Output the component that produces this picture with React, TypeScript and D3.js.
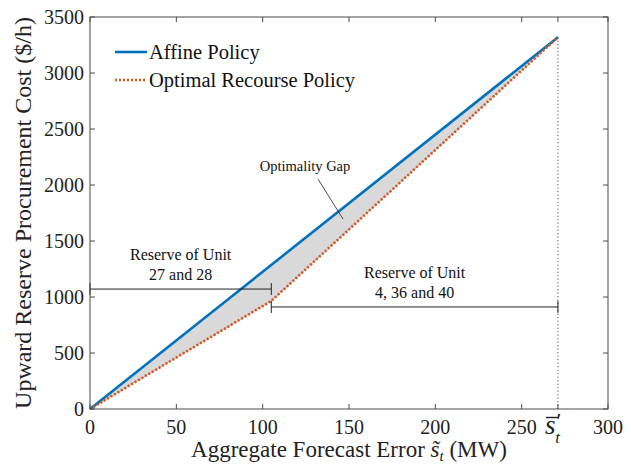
import React from "react";
import * as d3 from "d3";

const affineX = [0, 271];
const affineY = [0, 3320];
const optimalX = [0, 105, 271];
const optimalY = [0, 965, 3320];
const xTicks = [0, 50, 100, 150, 200, 250, 300];
const yTicks = [0, 500, 1000, 1500, 2000, 2500, 3000, 3500];
const sBar = 271;
const bracket1 = { x0: 0, x1: 105, y: 1071, lines: ["Reserve of Unit", "27 and 28"] };
const bracket2 = { x0: 105, x1: 271, y: 911, lines: ["Reserve of Unit", "4, 36 and 40"] };
const legendLabels = ["Affine Policy", "Optimal Recourse Policy"];

const W = 631, H = 466;
const M = { l: 90, r: 23, t: 17, b: 57 };
const FONT = "'Liberation Serif', 'Times New Roman', serif";

export default function App() {
  const x = d3.scaleLinear().domain([0, 300]).range([M.l, W - M.r]);
  const y = d3.scaleLinear().domain([0, 3500]).range([H - M.b, M.t]);
  const affine = affineX.map((v, i) => [v, affineY[i]] as [number, number]);
  const optimal = optimalX.map((v, i) => [v, optimalY[i]] as [number, number]);
  const line = d3.line<[number, number]>().x(d => x(d[0])).y(d => y(d[1]));
  const gap = [...affine, ...optimal.slice().reverse()];
  const axisColor = "#4a4a4a";
  const tl = 5;
  const bottomTicks = [...xTicks, sBar];
  const sx = x(sBar);
  const y0 = y(0);
  return (
    <svg width={W} height={H} style={{ position: "absolute", left: 0, top: 0, background: "#fff" }} fontFamily={FONT}>
      <path d={line(gap)! + "Z"} fill="#d9d9d9" stroke="#a8a8a8" strokeWidth={0.8} />
      <line x1={sx} x2={sx} y1={y(affineY[1])} y2={y0} stroke="#333" strokeWidth={1} strokeDasharray="1,2.5" />
      <path d={line(affine)!} fill="none" stroke="#0072BD" strokeWidth={2.6} />
      <path d={line(optimal)!} fill="none" stroke="#D95319" strokeWidth={2.6} strokeDasharray="2,2" />
      {[bracket1, bracket2].map((b, i) => (
        <g key={i} stroke="#222" strokeWidth={1}>
          <line x1={x(b.x0)} x2={x(b.x1)} y1={y(b.y)} y2={y(b.y)} />
          <line x1={x(b.x0)} x2={x(b.x0)} y1={y(b.y) - 6} y2={y(b.y) + 6} />
          <line x1={x(b.x1)} x2={x(b.x1)} y1={y(b.y) - 6} y2={y(b.y) + 6} />
        </g>
      ))}
      {[bracket1, bracket2].map((b, i) => {
        const cx = (x(b.x0) + x(b.x1)) / 2;
        return (
          <text key={"t" + i} x={cx} y={y(b.y) - 29} textAnchor="middle" fontSize={16} fill="#111">
            <tspan x={cx}>{b.lines[0]}</tspan>
            <tspan x={cx} dy={20}>{b.lines[1]}</tspan>
          </text>
        );
      })}
      <text x={305} y={171} textAnchor="middle" fontSize={14.5} fill="#111">Optimality Gap</text>
      <line x1={318} y1={179} x2={343} y2={219} stroke="#222" strokeWidth={0.8} />
      <rect x={M.l} y={M.t} width={W - M.l - M.r} height={H - M.t - M.b} fill="none" stroke={axisColor} strokeWidth={1} />
      {bottomTicks.map((t, i) => (
        <g key={"xt" + i} stroke={axisColor}>
          <line x1={x(t)} x2={x(t)} y1={y0} y2={y0 - tl} />
          <line x1={x(t)} x2={x(t)} y1={M.t} y2={M.t + tl} />
        </g>
      ))}
      {yTicks.map((t, i) => (
        <g key={"yt" + i} stroke={axisColor}>
          <line x1={M.l} x2={M.l + tl} y1={y(t)} y2={y(t)} />
          <line x1={W - M.r} x2={W - M.r - tl} y1={y(t)} y2={y(t)} />
        </g>
      ))}
      {xTicks.map((t, i) => (
        <text key={"xl" + i} x={x(t)} y={y0 + 25} textAnchor="middle" fontSize={20} fill="#222">{t}</text>
      ))}
      <line x1={sx - 12} x2={sx + 1} y1={y0 + 8.5} y2={y0 + 8.5} stroke="#222" strokeWidth={1.4} />
      <text x={sx - 13} y={y0 + 25} fontSize={27} fill="#222">
        <tspan fontStyle="italic">s</tspan>
        <tspan fontSize={22} dx={1} dy={-6}>′</tspan>
        <tspan fontSize={17} fontStyle="italic" dx={-6} dy={15}>t</tspan>
      </text>
      {yTicks.map((t, i) => (
        <text key={"yl" + i} x={M.l - 6} y={y(t) + 7} textAnchor="end" fontSize={20} fill="#222">{t}</text>
      ))}
      <text x={(M.l + W - M.r) / 2} y={457} textAnchor="middle" fontSize={23} fill="#222">
        Aggregate Forecast Error <tspan fontStyle="italic">s̃</tspan><tspan fontStyle="italic" fontSize={15} dy={4}>t</tspan><tspan dy={-4}> (MW)</tspan>
      </text>
      <text transform={`translate(31,${(M.t + H - M.b) / 2}) rotate(-90)`} textAnchor="middle" fontSize={24} fill="#222">
        Upward Reserve Procurement Cost ($/h)
      </text>
      <line x1={115} x2={147} y1={52} y2={52} stroke="#0072BD" strokeWidth={2.6} />
      <line x1={115} x2={147} y1={80} y2={80} stroke="#D95319" strokeWidth={2.6} strokeDasharray="2,2" />
      <text x={149} y={59} fontSize={20.5} fill="#111">{legendLabels[0]}</text>
      <text x={149} y={87} fontSize={20.5} fill="#111">{legendLabels[1]}</text>
    </svg>
  );
}
